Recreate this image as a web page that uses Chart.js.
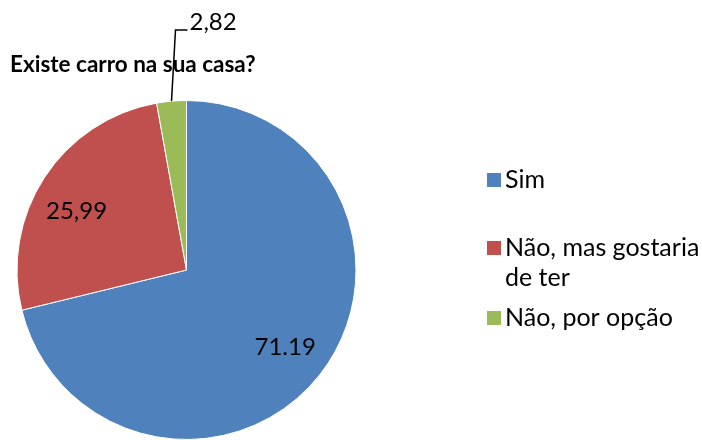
<!DOCTYPE html>
<html>
<head>
<meta charset="utf-8">
<script src="https://cdn.jsdelivr.net/npm/chart.js@4"></script>
<style>
  body { margin: 0; background: #fff; }
  #wrap { width: 702px; height: 440px; }
</style>
</head>
<body>
<div id="wrap"><canvas id="myChart"></canvas></div>
<script>
var categories = ['Sim', 'Não, mas gostaria de ter', 'Não, por opção'];
var legendLines = [['Sim'], ['Não, mas gostaria', 'de ter'], ['Não, por opção']];
var values = [71.19, 25.99, 2.82];
var valueLabels = ['71.19', '25,99', '2,82'];
var colors = ['#4F81BD', '#C0504D', '#9BBB59'];
var titleText = 'Existe carro na sua casa?';

var fontName = 'Lato, "Noto Sans", sans-serif';

// label placement inside slices: fraction of radius, angle tweak (deg)
var inside = [{ f: 0.74, da: 0 }, { f: 0.735, da: -5 }];

var extras = {
  id: 'extras',
  afterDraw: function(chart) {
    var ctx = chart.ctx;
    var arcs = chart.getDatasetMeta(0).data;
    ctx.save();

    // title
    ctx.fillStyle = '#000';
    ctx.font = 'bold 22.5px ' + fontName;
    ctx.textAlign = 'left';
    ctx.textBaseline = 'middle';
    ctx.fillText(titleText, 10, 65);

    // value labels
    ctx.font = '24px ' + fontName;
    ctx.textAlign = 'center';
    for (var i = 0; i < arcs.length; i++) {
      var a = arcs[i];
      var mid = (a.startAngle + a.endAngle) / 2;
      if (i == 2) {
        // small slice: leader line to label above
        var ox = a.x + Math.cos(mid) * a.outerRadius;
        var oy = a.y + Math.sin(mid) * a.outerRadius;
        ctx.strokeStyle = '#000';
        ctx.lineWidth = 1.5;
        ctx.beginPath();
        ctx.moveTo(ox, oy);
        ctx.lineTo(ox + 4, 30);
        ctx.lineTo(ox + 16, 30);
        ctx.stroke();
        ctx.textAlign = 'left';
        ctx.fillText(valueLabels[i], ox + 18, 22);
        ctx.textAlign = 'center';
      } else {
        var ang = mid + inside[i].da * Math.PI / 180;
        var r = a.outerRadius * inside[i].f;
        ctx.fillText(valueLabels[i], a.x + Math.cos(ang) * r, a.y + Math.sin(ang) * r);
      }
    }

    // legend
    ctx.textAlign = 'left';
    ctx.font = '25px ' + fontName;
    var legY = [180, 248, 318];
    for (var j = 0; j < categories.length; j++) {
      ctx.fillStyle = colors[j];
      ctx.fillRect(487, legY[j] - 7, 14, 14);
      ctx.fillStyle = '#000';
      for (var k = 0; k < legendLines[j].length; k++) {
        ctx.fillText(legendLines[j][k], 505, legY[j] + k * 30);
      }
    }
    ctx.restore();
  }
};

var ctx = document.getElementById('myChart').getContext('2d');
var myChart = new Chart(ctx, {
  type: 'pie',
  data: {
    labels: categories,
    datasets: [{
      data: values,
      backgroundColor: colors,
      borderColor: '#ffffff',
      borderWidth: 1
    }]
  },
  options: {
    responsive: true,
    maintainAspectRatio: false,
    animation: false,
    layout: { padding: { left: 15, top: 100, right: 344, bottom: -2 } },
    plugins: {
      legend: { display: false },
      tooltip: { enabled: false }
    }
  },
  plugins: [extras]
});
</script>
</body>
</html>
